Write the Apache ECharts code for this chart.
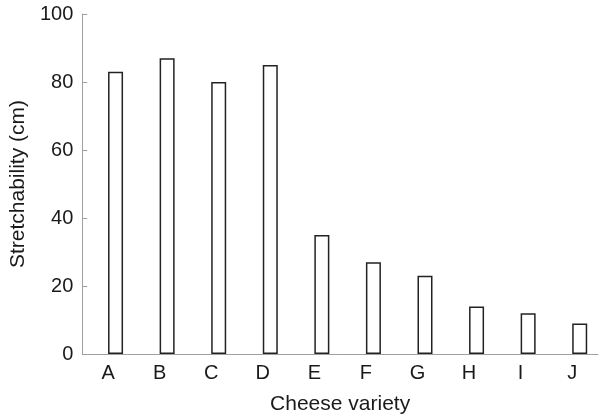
<!DOCTYPE html>
<html><head><meta charset="utf-8">
<script src="https://cdn.jsdelivr.net/npm/echarts@6/dist/echarts.min.js"></script>
<style>html,body{margin:0;padding:0;background:#fff}#c{width:600px;height:420px}</style>
</head><body><div id="c"></div>
<script>
var categories = ['A','B','C','D','E','F','G','H','I','J'];
var stretchability = [83, 87, 80, 85, 35, 27, 23, 14, 12, 9];
var yTicks = [0, 20, 40, 60, 80, 100];

var chart = echarts.init(document.getElementById('c'), null, {renderer: 'canvas'});
var font = 'Liberation Sans, Arial, Helvetica, sans-serif';
chart.setOption({
  animation: false,
  grid: {left: 82, right: 2, top: 14, bottom: 64, containLabel: false},
  xAxis: {
    type: 'category',
    data: categories,
    name: 'Cheese variety',
    nameLocation: 'middle',
    nameGap: 40,
    nameTextStyle: {color: '#1a1a1a', fontSize: 21, fontFamily: font},
    axisLine: {lineStyle: {color: '#a0a0a0', width: 1}},
    axisTick: {inside: true, length: 5, lineStyle: {color: '#a0a0a0'}},
    axisLabel: {color: '#1a1a1a', fontSize: 20, fontFamily: font, margin: 9},
    splitLine: {show: false}
  },
  yAxis: {
    type: 'value',
    min: yTicks[0],
    max: yTicks[yTicks.length - 1],
    interval: 20,
    name: 'Stretchability (cm)',
    nameLocation: 'middle',
    nameGap: 49,
    nameTextStyle: {color: '#1a1a1a', fontSize: 21, fontFamily: font},
    axisLine: {show: true, lineStyle: {color: '#a0a0a0', width: 1}},
    axisTick: {show: true, inside: true, length: 5, lineStyle: {color: '#a0a0a0'}},
    axisLabel: {color: '#1a1a1a', fontSize: 20, fontFamily: font, margin: 9},
    splitLine: {show: false}
  },
  series: [
    {
      type: 'bar',
      data: categories.map(function(){ return null; }),
      barWidth: 15,
      barGap: '0%',
      itemStyle: {color: 'transparent'}
    },
    {
      type: 'bar',
      data: stretchability,
      barWidth: 15,
      barGap: '0%',
      itemStyle: {color: '#ffffff', borderColor: '#222222', borderWidth: 1.5},
      z: 1
    }
  ]
});
</script></body></html>
